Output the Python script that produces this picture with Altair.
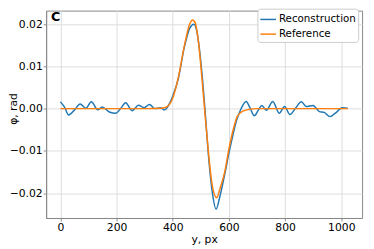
import altair as alt
import pandas as pd

# Reconstruction (blue)
x_rec = [0, 15, 29, 50, 70, 90, 110, 133, 148, 174, 197, 215, 232, 255, 278, 298, 317,
         336, 356, 371, 385, 400, 420, 440, 460, 475, 485, 495, 505, 515, 525, 540, 554,
         567, 585, 600, 615, 626, 640, 661, 675, 690, 705, 717, 733, 756, 779, 798, 817,
         838, 858, 875, 899, 922, 939, 960, 980, 1003, 1023]
y_rec = [0.0016, 0.0003, -0.0015, -0.0003, 0.0011, 0.0001, 0.0016, -0.0003, 0.0004,
         -0.0008, -0.0011, 0.0001, 0.0014, -0.0005, 0.0008, 0.0002, 0.0010, 0.0000,
         0.0002, -0.0003, 0.0008, 0.0030, 0.0072, 0.0142, 0.0190, 0.0200, 0.0185,
         0.0140, 0.0075, -0.0005, -0.0095, -0.0195, -0.0238, -0.0210, -0.0155, -0.0105,
         -0.0060, -0.0030, -0.0005, 0.0017, 0.0002, -0.0017, -0.0003, 0.00075, -0.0004,
         0.0017, -0.0011, 0.0005, -0.0014, 0.0002, 0.0016, 0.0005, 0.00075, -0.0007,
         -0.0009, -0.0019, -0.0010, 0.0002, 0.0001]

# Reference (orange)
x_ref = [0, 100, 200, 300, 360, 380, 400, 420, 440, 460, 470, 480, 490, 500, 513, 525,
         540, 556, 570, 585, 600, 615, 630, 650, 670, 700, 750, 1023]
y_ref = [0, 0, 0, 0, 0.0001, 0.0005, 0.0025, 0.0075, 0.0145, 0.0200, 0.0210, 0.0203,
         0.0165, 0.0100, 0.0, -0.0090, -0.0180, -0.0211, -0.0185, -0.0150, -0.0095,
         -0.0050, -0.0018, -0.0006, -0.0002, 0, 0, 0]

series = ["Reconstruction", "Reference"]
colors = ["#1f77b4", "#ff7f0e"]
x_ticks = [0, 200, 400, 600, 800, 1000]
y_ticks = [-0.02, -0.01, 0.0, 0.01, 0.02]

df = pd.concat([
    pd.DataFrame({"x": x_rec, "y": y_rec, "s": series[0]}),
    pd.DataFrame({"x": x_ref, "y": y_ref, "s": series[1]}),
])

lines = alt.Chart(df).mark_line(strokeWidth=1.5, interpolate="monotone").encode(
    x=alt.X("x:Q", scale=alt.Scale(domain=[-51, 1074], nice=False, zero=False),
            axis=alt.Axis(values=x_ticks, title="y, px", format="d")),
    y=alt.Y("y:Q", scale=alt.Scale(domain=[-0.0259, 0.0232], nice=False, zero=False),
            axis=alt.Axis(values=y_ticks, title="φ, rad", format=".2f",
                          titleX=-33, titleY=100, titleBaseline="middle",
                          titleAlign="center", titleAngle=270)),
    color=alt.Color("s:N", scale=alt.Scale(domain=series, range=colors),
                    legend=alt.Legend(title=None, orient="none", legendX=216, legendY=-2,
                                      symbolType="stroke", symbolSize=256,
                                      symbolStrokeWidth=1.5, labelFontSize=10.5,
                                      labelFont="DejaVu Sans", labelColor="black",
                                      labelOffset=2, rowPadding=0, padding=2,
                                      strokeColor="#cccccc",
                                      fillColor="white", cornerRadius=3)),
    order=alt.Order("x:Q"),
)

label = alt.Chart(pd.DataFrame({"t": ["C"]})).mark_text(
    font="DejaVu Sans", fontSize=13, fontWeight="bold", align="left", baseline="middle",
    color="black"
).encode(text="t:N", x=alt.value(5), y=alt.value(7))

chart = alt.layer(lines, label).properties(
    width=323, height=212,
    autosize=alt.AutoSizeParams(type="none"),
    padding={"left": 39, "top": 0, "right": 4, "bottom": 29},
).configure_view(stroke="#888888", strokeWidth=1).configure_axis(
    labelFont="DejaVu Sans", labelFontSize=11, labelColor="black",
    titleFont="DejaVu Sans", titleFontSize=11, titleColor="black", titleFontWeight="normal",
    gridColor="#dddddd", tickColor="#888888", domainColor="#888888", tickSize=3,
    labelPadding=1,
).configure_axisX(titlePadding=1)

chart.save("out.html", embed_options={"renderer": "svg", "actions": False})
